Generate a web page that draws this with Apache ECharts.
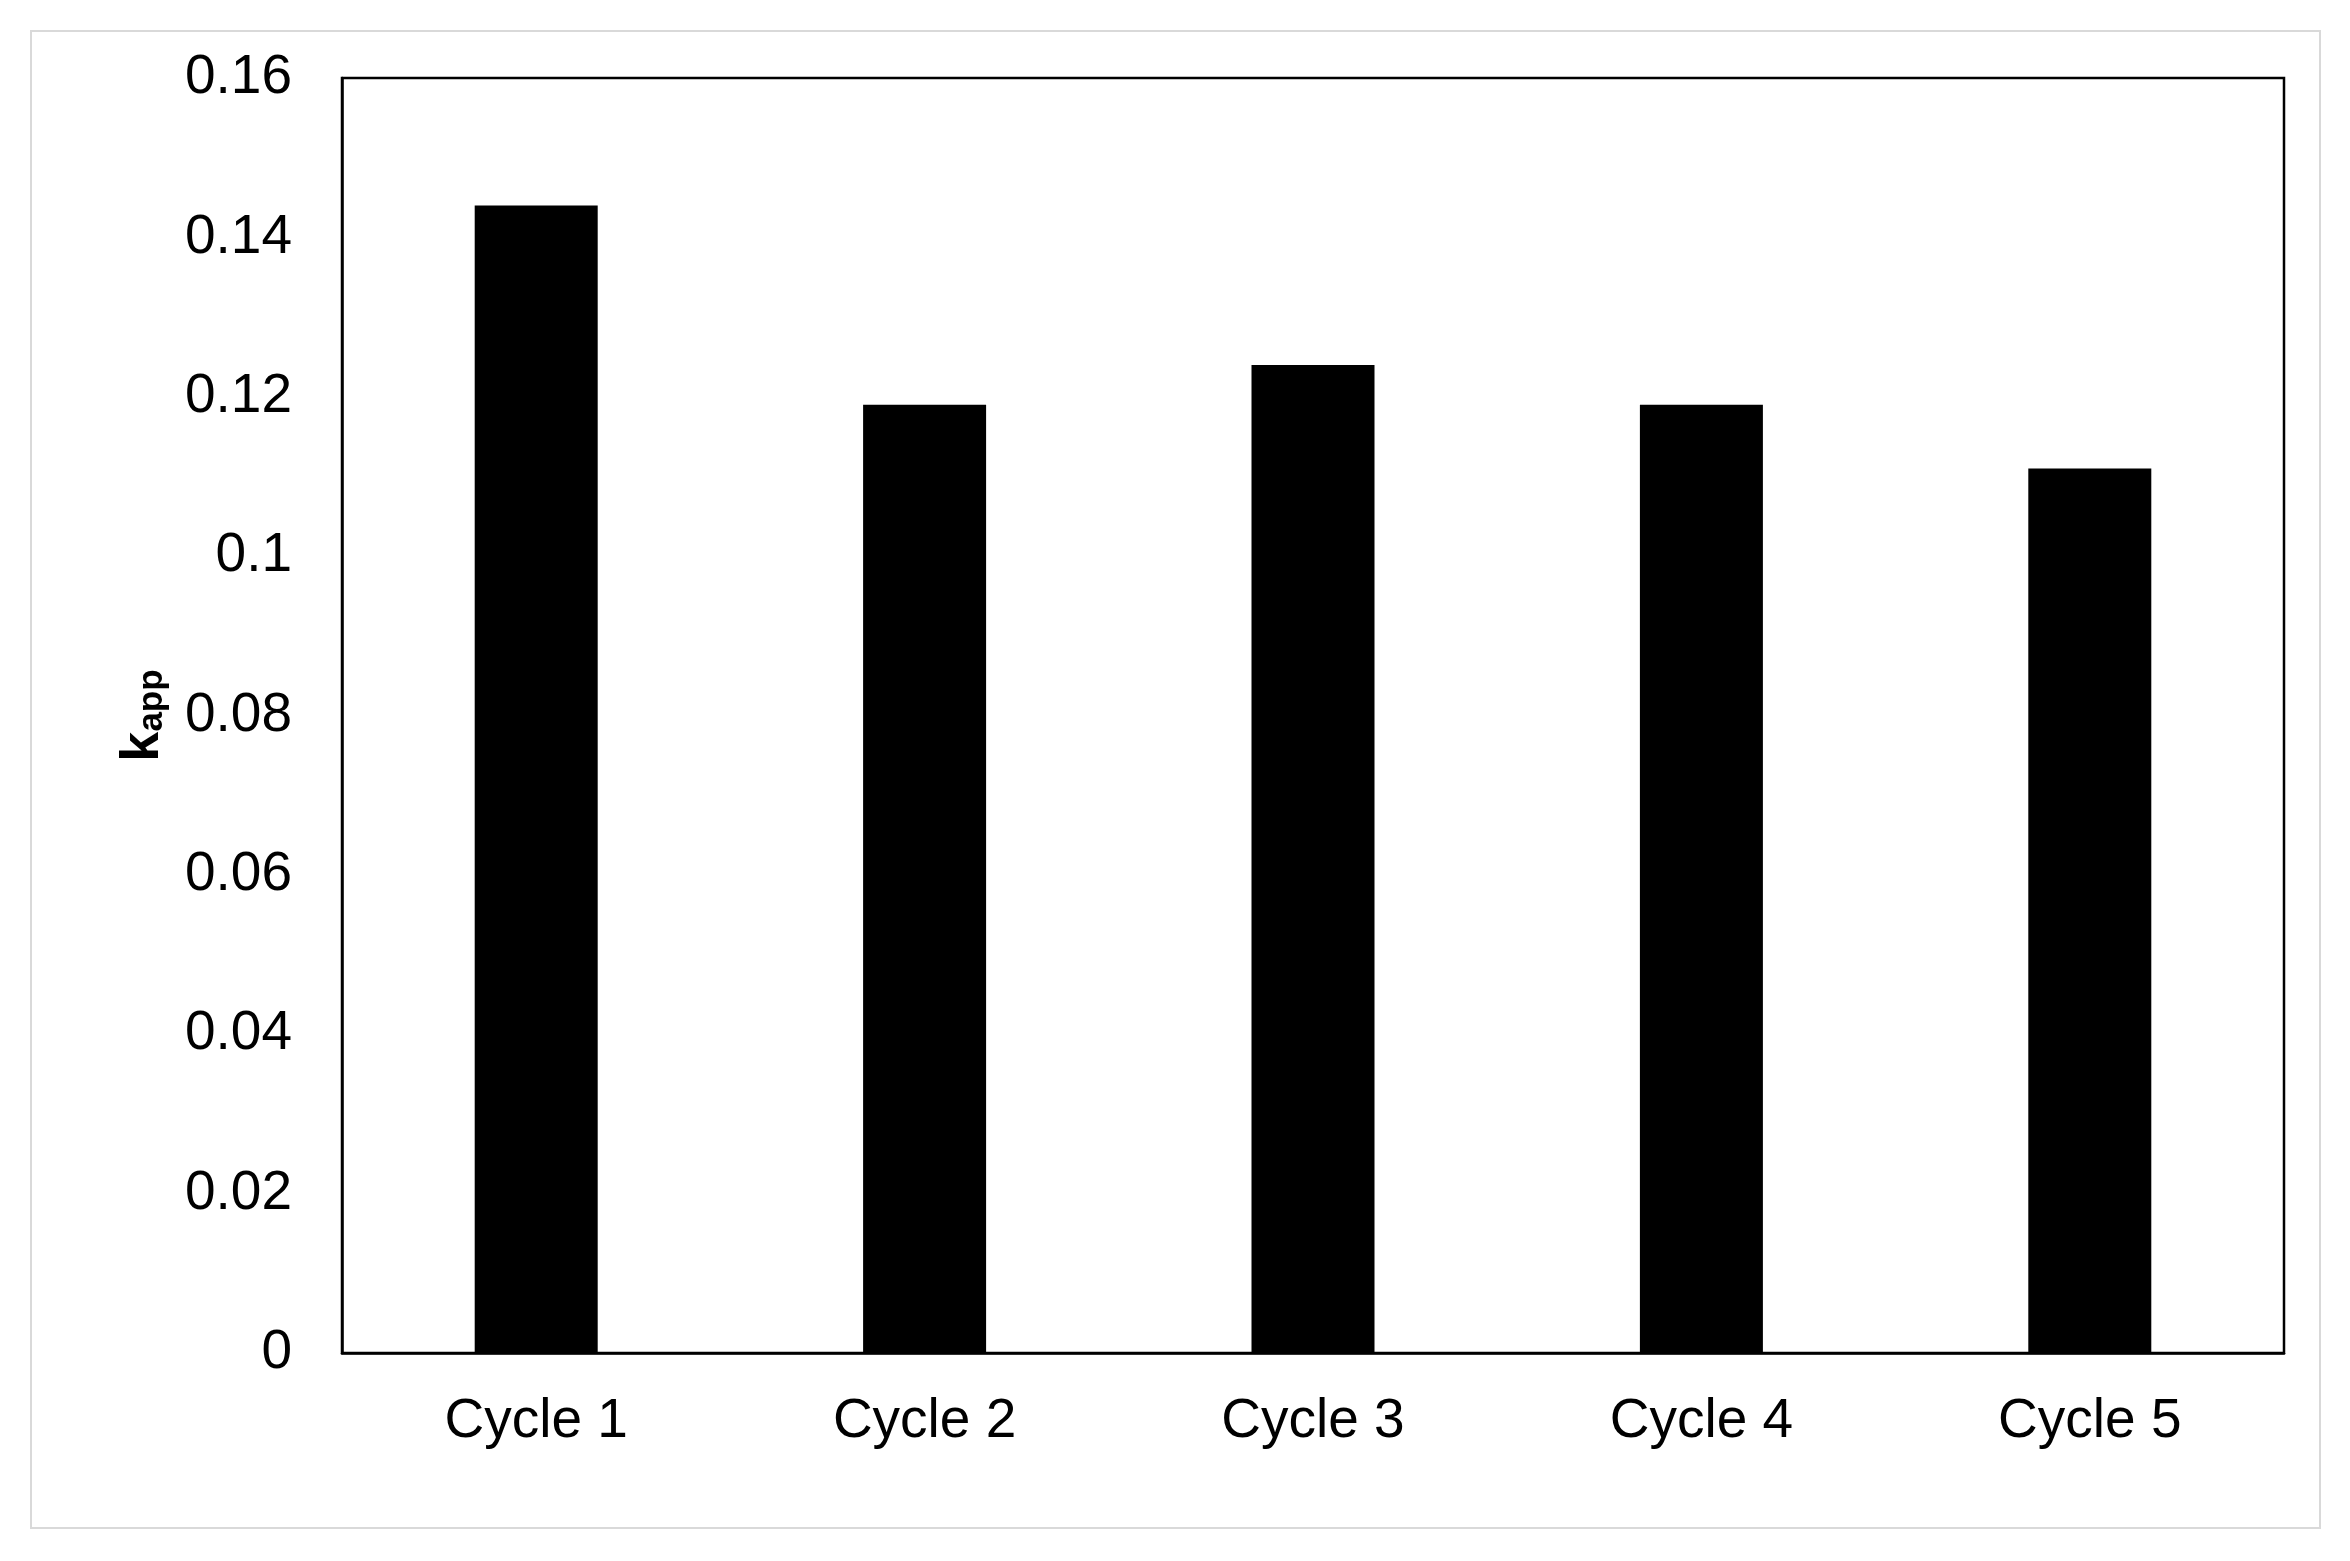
<!DOCTYPE html>
<html>
<head>
<meta charset="utf-8">
<script src="https://cdn.jsdelivr.net/npm/echarts@6/dist/echarts.min.js"></script>
<style>
	html, body { margin: 0; padding: 0; background: #fff; }
	#chart { width: 2350px; height: 1561px; }
</style>
</head>
<body>
<div id="chart"></div>
<script>
// data
const cycles = ['Cycle 1', 'Cycle 2', 'Cycle 3', 'Cycle 4', 'Cycle 5'];
const kapp = [0.144, 0.119, 0.124, 0.119, 0.111];
const yTicks = [0, 0.02, 0.04, 0.06, 0.08, 0.1, 0.12, 0.14, 0.16];

const font = '"Liberation Sans", Arial, sans-serif';
const chart = echarts.init(document.getElementById('chart'));

chart.setOption({
	animation: false,
	backgroundColor: '#fff',
	graphic: [{
		type: 'rect',
		shape: { x: 31, y: 31, width: 2289, height: 1497 },
		style: { fill: 'none', stroke: '#d9d9d9', lineWidth: 2 },
		silent: true
	}],
	grid: {
		left: 342,
		right: 66,
		top: 78,
		bottom: 208,
		show: true,
		borderColor: '#000',
		borderWidth: 2.5,
		backgroundColor: 'transparent'
	},
	xAxis: {
		type: 'category',
		data: cycles,
		axisLine: { show: true, lineStyle: { color: '#000', width: 2.5 } },
		axisTick: { show: false },
		axisLabel: {
			color: '#000',
			fontFamily: font,
			fontSize: 55,
			margin: 41
		}
	},
	yAxis: {
		type: 'value',
		min: yTicks[0],
		max: yTicks[yTicks.length - 1],
		interval: 0.02,
		splitLine: { show: false },
		axisTick: { show: false },
		axisLine: { show: true, lineStyle: { color: '#000', width: 2.5 } },
		axisLabel: {
			color: '#000',
			fontFamily: font,
			fontSize: 55,
			margin: 50,
			formatter: v => String(+v.toFixed(2))
		},
		name: '{k|k}{sub|app}',
		nameLocation: 'middle',
		nameRotate: 90,
		nameGap: 172,
		nameTextStyle: {
			rich: {
				k: { fontFamily: font, fontSize: 54, fontWeight: 'bold', color: '#000', verticalAlign: 'bottom', lineHeight: 60 },
				sub: { fontFamily: font, fontSize: 35, fontWeight: 'bold', color: '#000', verticalAlign: 'bottom', lineHeight: 60 }
			}
		}
	},
	series: [{
		type: 'bar',
		data: kapp,
		barWidth: 123,
		itemStyle: { color: '#000' }
	}]
});
</script>
</body>
</html>
